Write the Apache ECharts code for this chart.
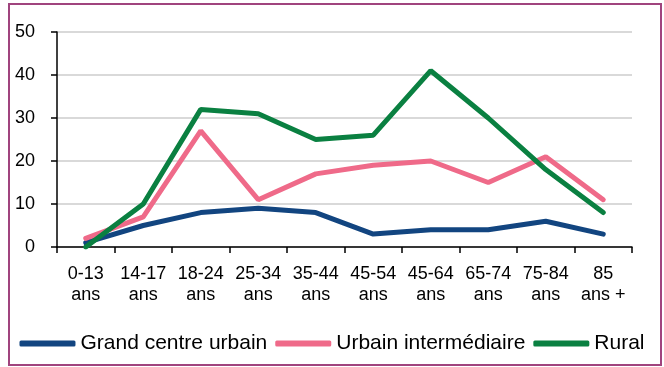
<!DOCTYPE html>
<html>
<head>
<meta charset="utf-8">
<script src="https://cdn.jsdelivr.net/npm/echarts@6/dist/echarts.min.js"></script>
<style>
  html, body { margin: 0; padding: 0; background: #fff; }
  #main { width: 664px; height: 367px; }
</style>
</head>
<body>
<div id="main"></div>
<script>
var categories = ['0-13\nans', '14-17\nans', '18-24\nans', '25-34\nans', '35-44\nans',
                  '45-54\nans', '45-64\nans', '65-74\nans', '75-84\nans', '85\nans +'];
var grandCentre = [1, 5, 8, 9, 8, 3, 4, 4, 6, 3];
var urbainInter = [2, 7, 27, 11, 17, 19, 20, 15, 21, 11];
var rural = [0, 10, 32, 31, 25, 26, 41, 30, 18, 8];
var yTicks = { min: 0, max: 50, interval: 10 };

var font = 'Liberation Sans, Arial, sans-serif';

var myChart = echarts.init(document.getElementById('main'));
var option = {
    backgroundColor: '#fff',
    textStyle: { fontFamily: font },
    graphic: [{
        type: 'rect',
        shape: { x: 9, y: 4, width: 652, height: 361 },
        style: { fill: 'none', stroke: '#a0447e', lineWidth: 2 },
        z: 0
    }],
    grid: { left: 57, right: 32, top: 32, bottom: 120 },
    legend: {
        top: 328,
        left: 'center',
        icon: 'roundRect',
        itemWidth: 56,
        itemHeight: 6,
        itemGap: 8,
        textStyle: { fontFamily: font, fontSize: 21, color: '#000' },
        data: ['Grand centre urbain', 'Urbain intermédiaire', 'Rural']
    },
    xAxis: {
        type: 'category',
        data: categories,
        boundaryGap: true,
        axisLine: { lineStyle: { color: '#000', width: 1.5 } },
        axisTick: { show: true, length: 6, lineStyle: { color: '#000', width: 1.5 } },
        axisLabel: { color: '#000', fontSize: 18, lineHeight: 21, margin: 17, interval: 0, fontFamily: font }
    },
    yAxis: {
        type: 'value',
        min: yTicks.min,
        max: yTicks.max,
        interval: yTicks.interval,
        axisLine: { show: true, lineStyle: { color: '#000', width: 1.5 } },
        axisTick: { show: true, length: 6, lineStyle: { color: '#000', width: 1.5 } },
        axisLabel: { color: '#000', fontSize: 18, margin: 22, fontFamily: font },
        splitLine: { lineStyle: { color: '#d9d9d9', width: 2 } }
    },
    series: [
        {
            name: 'Grand centre urbain',
            type: 'line',
            data: grandCentre,
            symbol: 'none',
            color: '#124580',
            lineStyle: { width: 5, color: '#124580', cap: 'round' }
        },
        {
            name: 'Urbain intermédiaire',
            type: 'line',
            data: urbainInter,
            symbol: 'none',
            color: '#ef6a89',
            lineStyle: { width: 5, color: '#ef6a89', cap: 'round' }
        },
        {
            name: 'Rural',
            type: 'line',
            data: rural,
            symbol: 'none',
            color: '#0a8041',
            lineStyle: { width: 5, color: '#0a8041', cap: 'round' }
        }
    ]
};
myChart.setOption(option);
</script>
</body>
</html>
